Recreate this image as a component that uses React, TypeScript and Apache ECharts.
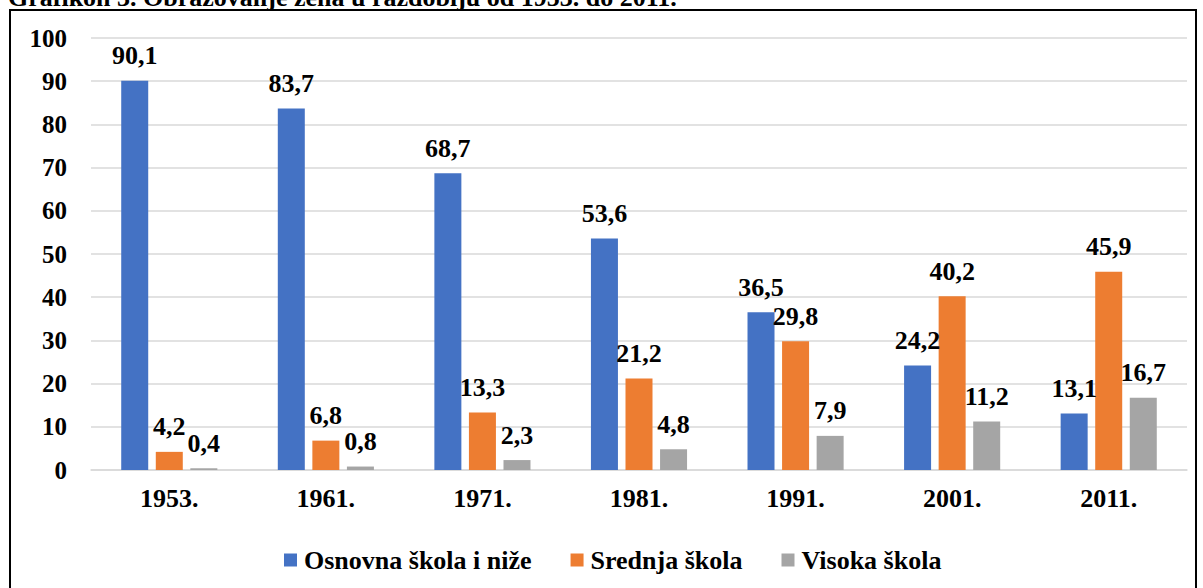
import React, { useEffect, useRef } from "react";
import * as echarts from "echarts";

const titleText = "Grafikon 3. Obrazovanje žena u razdoblju od 1953. do 2011.";
const categories = ["1953.", "1961.", "1971.", "1981.", "1991.", "2001.", "2011."];
const seriesNames = ["Osnovna škola i niže", "Srednja škola", "Visoka škola"];
const osnovna = [90.1, 83.7, 68.7, 53.6, 36.5, 24.2, 13.1];
const srednja = [4.2, 6.8, 13.3, 21.2, 29.8, 40.2, 45.9];
const visoka = [0.4, 0.8, 2.3, 4.8, 7.9, 11.2, 16.7];
const colors = ["#4472C4", "#ED7D31", "#A5A5A5"];

const FONT = "Liberation Serif, Times New Roman, serif";

export default function App() {
  const ref = useRef<HTMLDivElement>(null);
  useEffect(() => {
    if (!ref.current) return;
    const chart = echarts.init(ref.current, null, { renderer: "svg" });
    const fmt = (p: any) => Number(p.value).toFixed(1).replace(".", ",");
    const mk = (name: string, data: number[], color: string) => ({
      name,
      type: "bar",
      data,
      barWidth: 27,
      barGap: "28%",
      itemStyle: { color },
      label: {
        show: true,
        position: "top",
        distance: 12,
        formatter: fmt,
        color: "#000",
        fontFamily: FONT,
        fontWeight: "bold",
        fontSize: 26,
      },
    });
    chart.setOption({
      animation: false,
      color: colors,
      textStyle: { fontFamily: FONT },
      grid: { left: 91, right: 16, top: 38, bottom: 118, containLabel: false },
      legend: {
        left: 279,
        top: 542,
        itemWidth: 13,
        itemHeight: 13,
        itemGap: 39,
        icon: "rect",
        textStyle: { fontFamily: FONT, fontWeight: "bold", fontSize: 26, color: "#000", padding: [0, 0, 0, 2] },
        data: seriesNames,
      },
      xAxis: {
        type: "category",
        data: categories,
        axisLine: { show: true, lineStyle: { color: "#d9d9d9", width: 1.5 } },
        axisTick: { show: false },
        axisLabel: { margin: 15, color: "#000", fontFamily: FONT, fontWeight: "bold", fontSize: 26 },
      },
      yAxis: {
        type: "value",
        min: 0,
        max: 100,
        interval: 10,
        axisLine: { show: false },
        axisTick: { show: false },
        splitLine: { lineStyle: { color: "#d9d9d9", width: 1.5 } },
        axisLabel: { margin: 24, color: "#000", fontFamily: FONT, fontWeight: "bold", fontSize: 25 },
      },
      graphic: [
        {
          type: "rect",
          shape: { x: 10, y: 10, width: 1186, height: 600 },
          style: { fill: "none", stroke: "#000", lineWidth: 2 },
          z: 10,
        },
        {
          type: "text",
          x: 8,
          y: 10,
          style: {
            text: titleText,
            fill: "#000",
            fontFamily: FONT,
            fontWeight: "bold",
            fontSize: 26,
            verticalAlign: "bottom",
          },
          z: 10,
        },
      ],
      series: [mk(seriesNames[0], osnovna, colors[0]), mk(seriesNames[1], srednja, colors[1]), mk(seriesNames[2], visoka, colors[2])],
    });
    return () => chart.dispose();
  }, []);
  return (
    <div
      ref={ref}
      style={{ position: "fixed", left: 0, top: 0, width: 1203, height: 588, background: "#fff" }}
    />
  );
}
